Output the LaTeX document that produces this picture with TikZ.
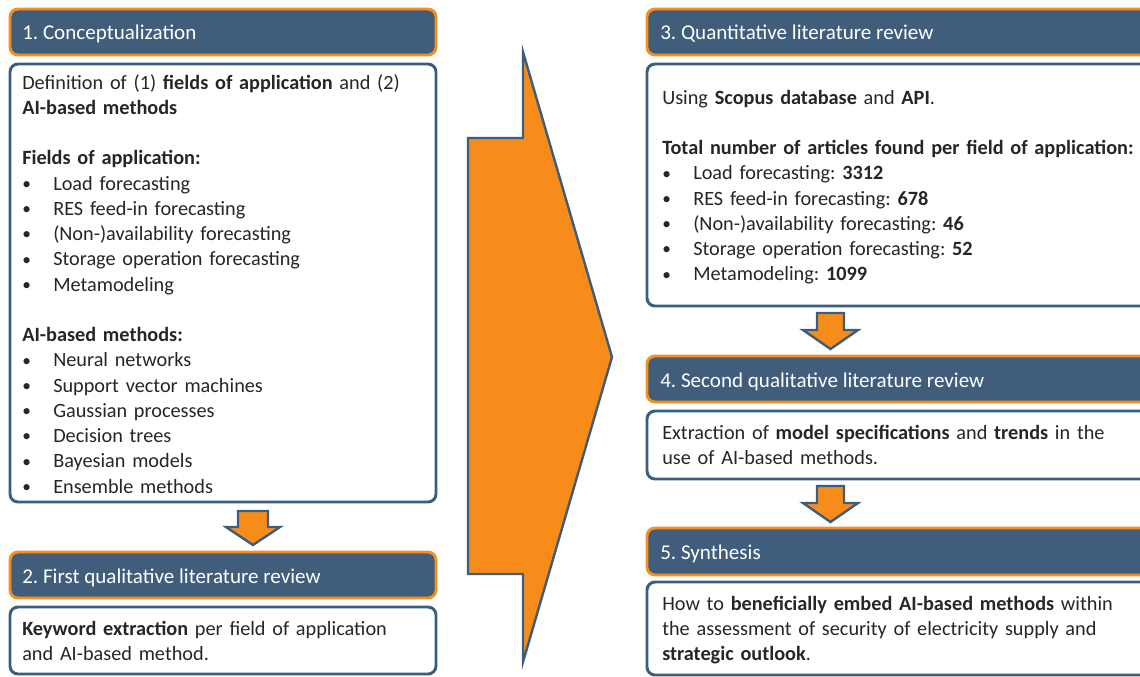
\documentclass[tikz,border=0pt]{standalone}
\usepackage{fontspec}
\setmainfont{Carlito}
\definecolor{hdrblue}{RGB}{64,94,124}
\definecolor{bordblue}{RGB}{60,94,126}
\definecolor{orng}{RGB}{247,143,30}
\definecolor{arrfill}{RGB}{248,140,26}
\definecolor{txtcol}{RGB}{38,38,38}
\newcommand\bodyfont{\fontsize{15.2pt}{18.94pt}\selectfont\frenchspacing}
\newcommand\hdrfont{\fontsize{15.8pt}{18.94pt}\selectfont\frenchspacing}
\newcommand\bitem[1]{\par\hspace*{0pt}\makebox[23.25pt][l]{\raisebox{0.5pt}{\fontsize{13pt}{13pt}\selectfont\textbullet}}#1}
\newcommand\blankline{\par\vspace{18.94pt}}
\tikzset{
  hdrbox/.style={draw=orng, fill=hdrblue, line width=2.2pt, rounded corners=6pt},
  bodybox/.style={draw=bordblue, fill=white, line width=2.2pt, rounded corners=6pt},
  hdrtxt/.style={anchor=base west, inner sep=0pt, text=white, font=\hdrfont},
  bodytxt/.style={anchor=base west, inner sep=0pt, text width=600pt, align=left, text=txtcol, font=\bodyfont},
  blockarrow/.style={draw=bordblue, fill=arrfill, line width=1.8pt, line join=miter},
}
\begin{document}
\begin{tikzpicture}[x=0.75pt, y=-0.75pt]
\useasboundingbox (0,0) rectangle (1140,676);
\clip (0,0) rectangle (1140,676);
% big arrow
\draw[blockarrow] (468,138) -- (523,138) -- (523,52) -- (612,357) -- (523,662) -- (523,574) -- (468,574) -- cycle;
% ---------- left column
\draw[hdrbox] (10,9) rectangle (436,55);
\node[hdrtxt] (t1) at (22,39) {1. Conceptualization};
\draw[bodybox] (10,64) rectangle (436,502);
\node[bodytxt] (b1) at (22,89) {Definition of (1) \textbf{fields of application} and (2)\par
\textbf{AI-based methods}\blankline
\textbf{Fields of application:}
\bitem{Load forecasting}
\bitem{RES feed-in forecasting}
\bitem{(Non-)availability forecasting}
\bitem{Storage operation forecasting}
\bitem{Metamodeling}\blankline
\textbf{AI-based methods:}
\bitem{Neural networks}
\bitem{Support vector machines}
\bitem{Gaussian processes}
\bitem{Decision trees}
\bitem{Bayesian models}
\bitem{Ensemble methods}};
\draw[blockarrow] (238,511) -- (268,511) -- (268,527) -- (280,527) -- (253,545) -- (226,527) -- (238,527) -- cycle;
\draw[hdrbox] (10,552) rectangle (436,598);
\node[hdrtxt] (t2) at (22,583) {2. First qualitative literature review};
\draw[bodybox] (10,607) rectangle (436,674);
\node[bodytxt] (b2) at (22,635) {\textbf{Keyword extraction} per field of application\par and AI-based method.};
% ---------- right column
\draw[hdrbox] (647,9) rectangle (1170,55);
\node[hdrtxt] (t3) at (660,39) {3. Quantitative literature review};
\draw[bodybox] (647,64) rectangle (1170,306);
\node[bodytxt] (b3) at (662,104) {Using \textbf{Scopus database} and \textbf{API}.\blankline
\textbf{Total number of articles found per field of application:}
\bitem{Load forecasting: \textbf{3312}}
\bitem{RES feed-in forecasting: \textbf{678}}
\bitem{(Non-)availability forecasting: \textbf{46}}
\bitem{Storage operation forecasting: \textbf{52}}
\bitem{Metamodeling: \textbf{1099}}};
\draw[blockarrow] (817,313) -- (844,313) -- (844,330) -- (858,330) -- (830.5,349) -- (803,330) -- (817,330) -- cycle;
\draw[hdrbox] (647,356) rectangle (1170,402);
\node[hdrtxt] (t4) at (660,387) {4. Second qualitative literature review};
\draw[bodybox] (647,411) rectangle (1170,479);
\node[bodytxt] (b4) at (662,439) {Extraction of \textbf{model specifications} and \textbf{trends} in the\par use of AI-based methods.};
\draw[blockarrow] (817,486) -- (844,486) -- (844,503) -- (858,503) -- (830.5,522) -- (803,503) -- (817,503) -- cycle;
\draw[hdrbox] (647,528) rectangle (1170,575);
\node[hdrtxt] (t5) at (660,559) {5. Synthesis};
\draw[bodybox] (647,582) rectangle (1170,675);
\node[bodytxt] (b5) at (662,610) {How to \textbf{beneficially embed AI-based methods} within\par the assessment of security of electricity supply and\par \textbf{strategic outlook}.};
\end{tikzpicture}
\end{document}
